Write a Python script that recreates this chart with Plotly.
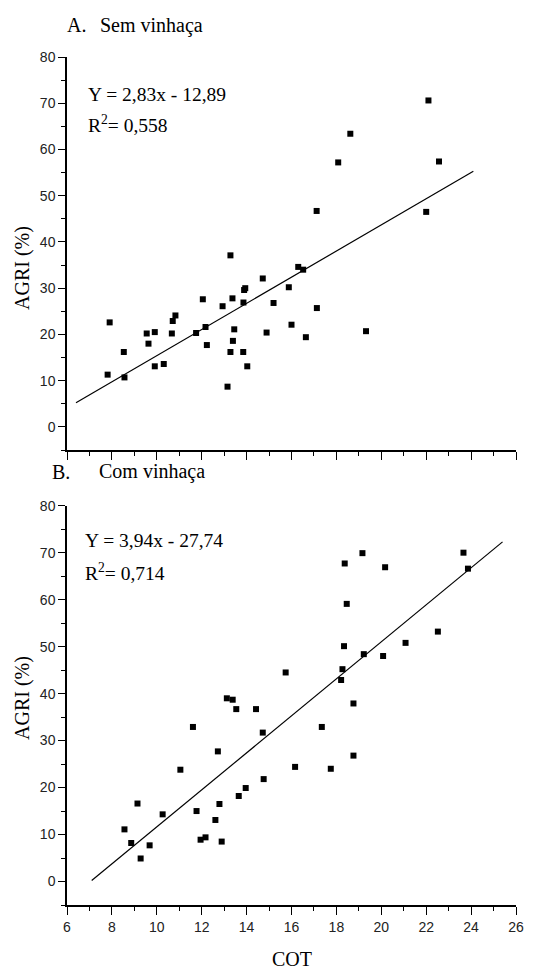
import plotly.graph_objects as go

# Panel A: Sem vinhaça
cot_a = [18.08, 22.57, 17.12, 22.0, 13.28, 16.3, 16.52, 14.72, 13.94, 13.89, 15.88, 12.05, 13.37, 12.93,
         13.86, 15.2, 17.13, 7.9, 10.71, 10.83, 16.0, 12.17, 13.45, 9.55, 9.91, 10.67, 11.75, 14.89, 19.32,
         16.64, 9.63, 13.39, 12.23, 8.53, 13.28, 13.85, 10.31, 9.91, 14.03, 7.81, 8.56, 13.15, 22.1, 18.62]
agri_a = [57.2, 57.4, 46.7, 46.5, 37.1, 34.6, 34.0, 32.1, 30.0, 29.6, 30.2, 27.6, 27.8, 26.1,
          26.9, 26.8, 25.7, 22.6, 22.9, 24.1, 22.1, 21.6, 21.1, 20.2, 20.5, 20.2, 20.3, 20.4, 20.7,
          19.4, 18.0, 18.6, 17.7, 16.2, 16.2, 16.2, 13.6, 13.1, 13.1, 11.3, 10.7, 8.7, 70.6, 63.4]
fit_a_x = [6.4, 24.1]
fit_a_y = [5.2, 55.3]

# Panel B: Com vinhaça
cot_b = [18.37, 19.16, 20.17, 23.66, 23.86, 18.46, 22.52, 18.34, 21.08, 19.22, 20.08, 15.74, 18.27, 18.21,
         13.12, 13.38, 13.54, 14.42, 18.76, 11.61, 17.35, 14.72, 12.72, 18.76, 11.05, 16.16, 17.75, 14.76,
         13.96, 13.65, 9.14, 12.79, 11.77, 10.26, 12.61, 8.56, 8.86, 9.68, 11.95, 12.17, 12.89, 9.28]
agri_b = [67.7, 69.9, 66.9, 70.0, 66.6, 59.1, 53.2, 50.1, 50.8, 48.4, 48.0, 44.5, 45.2, 42.9,
          39.0, 38.7, 36.7, 36.7, 37.9, 32.9, 32.9, 31.7, 27.7, 26.8, 23.8, 24.4, 24.0, 21.8,
          19.9, 18.2, 16.6, 16.5, 15.0, 14.3, 13.1, 11.1, 8.2, 7.7, 8.9, 9.4, 8.5, 4.9]
fit_b_x = [7.1, 25.4]
fit_b_y = [0.2, 72.3]

x_ticks = [6, 8, 10, 12, 14, 16, 18, 20, 22, 24, 26]
y_ticks = [0, 10, 20, 30, 40, 50, 60, 70, 80]

SERIF = "Liberation Serif, Times New Roman, serif"
SANS = "Liberation Sans, Arial, sans-serif"

fig = go.Figure()
mk = dict(symbol="square", size=6, color="black")
fig.add_trace(go.Scatter(x=cot_a, y=agri_a, mode="markers", marker=mk, xaxis="x", yaxis="y"))
fig.add_trace(go.Scatter(x=fit_a_x, y=fit_a_y, mode="lines", line=dict(color="black", width=1.2), xaxis="x", yaxis="y"))
fig.add_trace(go.Scatter(x=cot_b, y=agri_b, mode="markers", marker=mk, xaxis="x2", yaxis="y2"))
fig.add_trace(go.Scatter(x=fit_b_x, y=fit_b_y, mode="lines", line=dict(color="black", width=1.2), xaxis="x2", yaxis="y2"))

def xax(show_labels, anchor):
    return dict(range=[6, 26], tickvals=x_ticks, showticklabels=show_labels, ticks="outside", ticklen=8,
                tickwidth=1.3, tickcolor="black", showline=True, linecolor="black", linewidth=1.5,
                showgrid=False, zeroline=False, anchor=anchor, domain=[0, 1],
                minor=dict(dtick=1, tick0=6, ticks="outside", ticklen=4, tickwidth=1.3, tickcolor="black"),
                tickfont=dict(family=SANS, size=14, color="#222"))

def yax(domain, anchor):
    return dict(range=[-5, 80], tickvals=y_ticks, ticks="outside", ticklen=7, tickwidth=1.3,
                tickcolor="black", showline=True, linecolor="black", linewidth=1.5, showgrid=False,
                zeroline=False, domain=domain, anchor=anchor,
                minor=dict(dtick=5, tick0=0, ticks="outside", ticklen=4, tickwidth=1.3, tickcolor="black"),
                tickfont=dict(family=SANS, size=14, color="#222"))

O = 8  # page body margin offset
W, H = 531, 961
L, R, T, B = 59, 23, 49, 64
PW, PH = W - L - R, H - T - B

def px(xs):
    return (xs - O - L) / PW

def py(ys):
    return (H - B - (ys - O)) / PH

fig.update_layout(
    width=W, height=H, margin=dict(l=L, r=R, t=T, b=B),
    paper_bgcolor="white", plot_bgcolor="white", showlegend=False,
    xaxis=xax(False, "y"), yaxis=yax([py(450), 1], "x"),
    xaxis2=xax(True, "y2"), yaxis2=yax([0, py(505.7)], "x2"),
)

def ann(text, x, y, size=20, xanchor="left", angle=0):
    fig.add_annotation(text=text, x=x, y=y, xref="paper", yref="paper", showarrow=False,
                       xanchor=xanchor, yanchor="middle", textangle=angle,
                       font=dict(family=SERIF, size=size, color="black"))

ann("A.", px(65), py(25))
ann("Sem vinhaça", px(98), py(25))
ann("B.", px(50), py(471.7))
ann("Com vinhaça", px(97), py(471.7))
ann("Y = 2,83x - 12,89", px(86), py(95), size=19.5)
ann("R<sup>2</sup>= 0,558", px(86), py(124), size=19.5)
ann("Y = 3,94x - 27,74", px(83), py(540), size=19.5)
ann("R<sup>2</sup>= 0,714", px(83), py(572), size=19.5)
ann("AGRI (%)", px(22), py(268), xanchor="center", angle=-90)
ann("AGRI (%)", px(22), py(698), xanchor="center", angle=-90)
ann("COT", px(291.7), py(959), xanchor="center")

fig.write_html("out.html")
